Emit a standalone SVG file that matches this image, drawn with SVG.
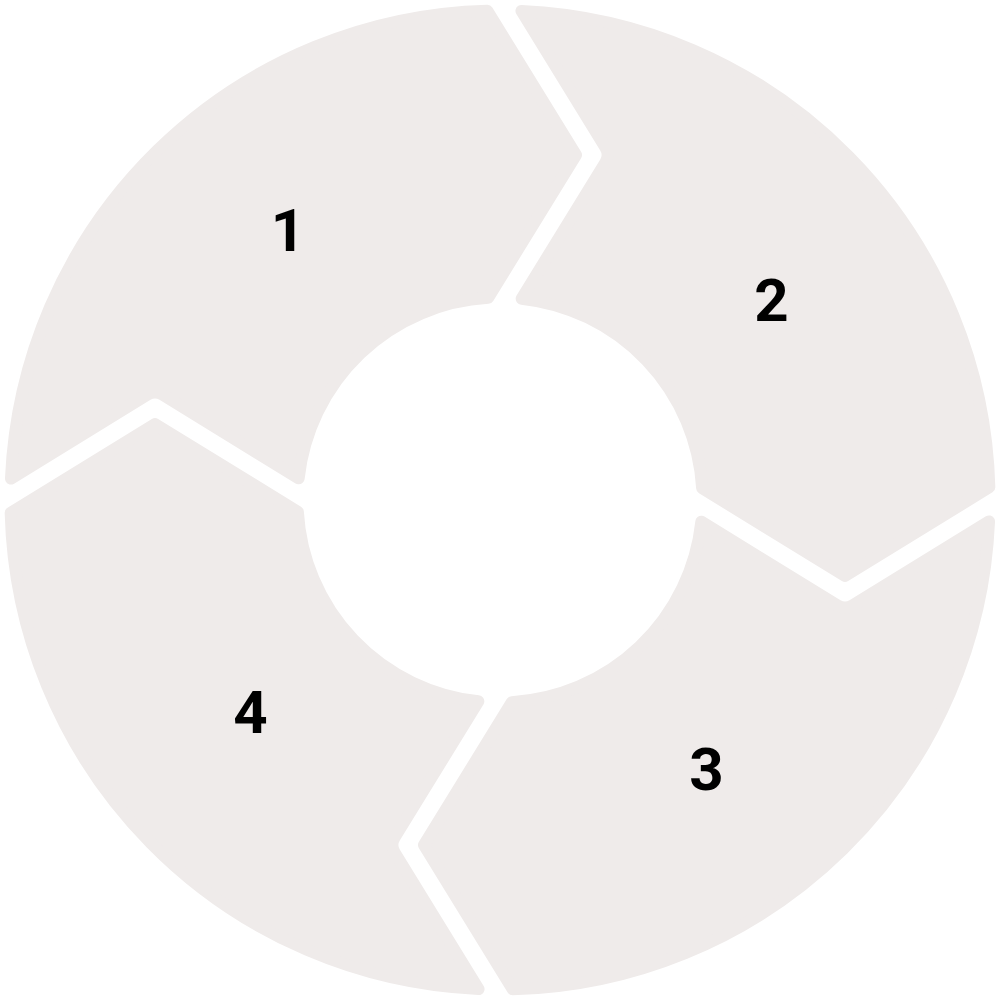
<svg xmlns="http://www.w3.org/2000/svg" xmlns:xlink="http://www.w3.org/1999/xlink" width="1000" height="1000" viewBox="0 0 1000 1000">
  <style>
    .seg { fill: #efebea; stroke: #efebea; stroke-width: 12; stroke-linejoin: round; }
    .num { font-family: Roboto, "Liberation Sans", Arial, sans-serif; font-weight: 700; font-size: 60px; fill: #000000; text-anchor: middle; }
  </style>
  <defs>
    <path id="seg" class="seg" d="M10.97,478.55 A489.5,489.5 0 0 1 487.22,10.67 L575.98,155 L488.13,297.86 A202.5,202.5 0 0 0 298.67,478.33 L162.6,394.65 A14.5,14.5 0 0 0 147.4,394.65 Z"/>
  </defs>
  <rect width="1000" height="1000" fill="#ffffff"/>
  <g id="connectors"></g>
  <g id="step-1">
    <use href="#seg" xlink:href="#seg"/>
    <text class="num" x="288" y="251">1</text>
  </g>
  <g id="step-2">
    <use href="#seg" xlink:href="#seg" transform="rotate(90 500 500)"/>
    <text class="num" x="771.5" y="321">2</text>
  </g>
  <g id="step-3">
    <use href="#seg" xlink:href="#seg" transform="rotate(180 500 500)"/>
    <text class="num" x="706.5" y="790">3</text>
  </g>
  <g id="step-4">
    <use href="#seg" xlink:href="#seg" transform="rotate(270 500 500)"/>
    <text class="num" x="250.5" y="732.5">4</text>
  </g>
</svg>
